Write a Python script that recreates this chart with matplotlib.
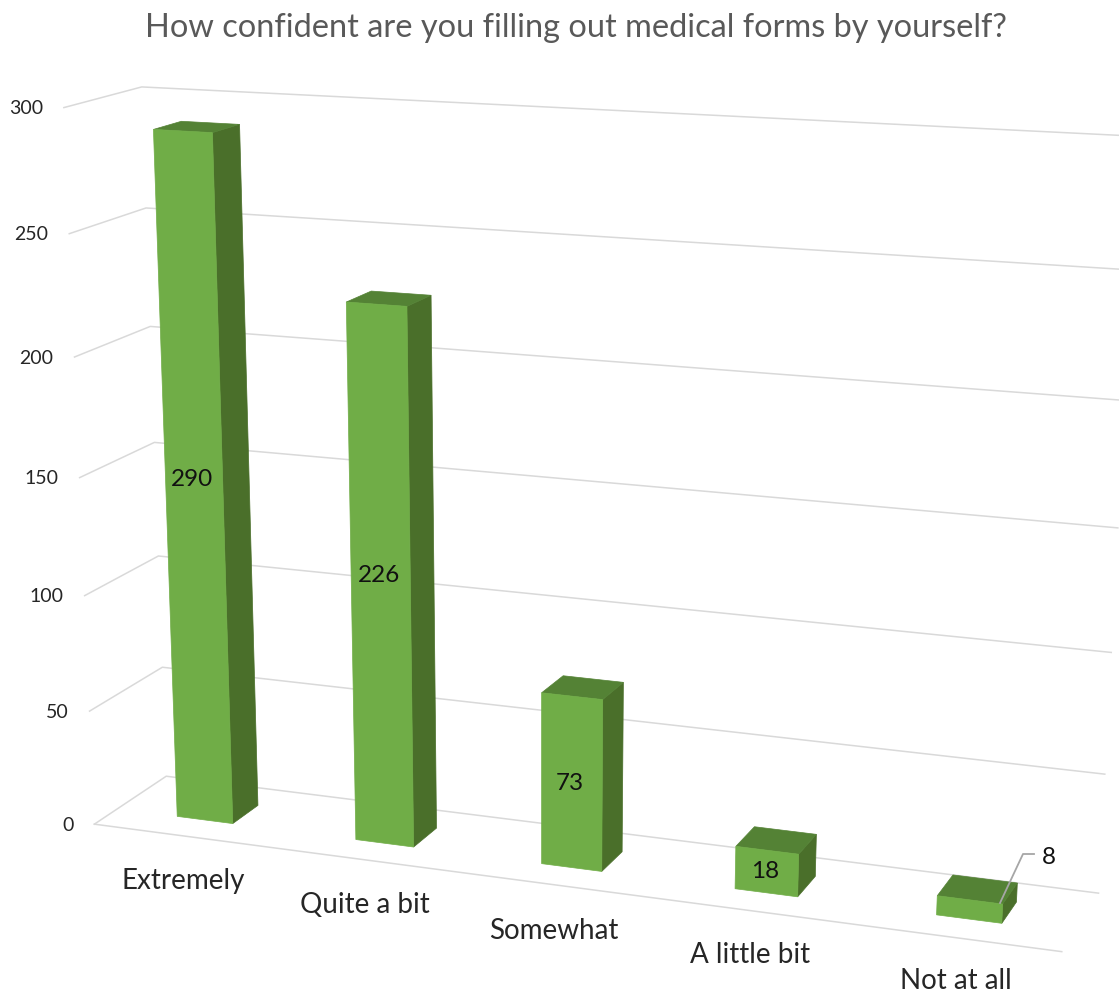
import numpy as np
from matplotlib import pyplot as plt
from matplotlib.patches import Polygon

plt.rcParams['font.family'] = ['Lato', 'DejaVu Sans']

title = "How confident are you filling out medical forms by yourself?"
categories = ["Extremely", "Quite a bit", "Somewhat", "A little bit", "Not at all"]
values = [290, 226, 73, 18, 8]
y_ticks = [0, 50, 100, 150, 200, 250, 300]

FRONT = "#70AD47"
TOP = "#548235"
SIDE = "#4A6F2A"
GRID = "#D9D9D9"

BAR_W = 0.315
Z0, Z1 = 0.315, 0.685
xl, xr = 0.5 - BAR_W / 2, 0.5 + BAR_W / 2

# camera calibration: (category pos, value, depth) -> picture pixel
calib = [
    ((0, 0, 0), (95, 824)), ((0, 300, 0), (65, 108)),
    ((0, 0, 1), (166, 776)), ((0, 300, 1), (142, 87)),
    ((5, 0, 0), (1063, 951)), ((5, 0, 1), (1098, 893)),
    ((5, 300, 1), (1140, 138)),
    ((xl, 0, Z0), (177, 817)), ((xr, 0, Z0), (233, 823)),
    ((xl, 290, Z0), (153, 130)), ((xr, 290, Z0), (212, 133)),
    ((xr, 290, Z1), (239, 124)), ((xl, 290, Z1), (182, 121)),
    ((1 + xl, 0, Z0), (356, 840)), ((1 + xr, 0, Z0), (414, 847)),
    ((1 + xl, 226, Z0), (346, 302)), ((1 + xr, 226, Z0), (405, 304)),
    ((2 + xl, 0, Z0), (542, 865)), ((2 + xr, 0, Z0), (602, 871)),
    ((2 + xl, 73, Z0), (542, 694)), ((2 + xr, 73, Z0), (601, 696)),
    ((3 + xl, 0, Z0), (736, 892)), ((3 + xr, 0, Z0), (798, 896)),
    ((3 + xl, 18, Z0), (736, 849)), ((3 + xr, 18, Z0), (798, 853)),
    ((4 + xl, 0, Z0), (937, 915)), ((4 + xr, 0, Z0), (1002, 923)),
    ((4 + xl, 8, Z0), (937, 896)), ((4 + xr, 8, Z0), (1000, 904)),
    ((4 + xl, 8, Z1), (954, 874)), ((4 + xr, 8, Z1), (1017, 882)),
]


def fit_camera(points):
    rows = []
    for (x, y, z), (u, v) in points:
        y = y / 100
        rows.append([x, y, z, 1, 0, 0, 0, 0, -u * x, -u * y, -u * z, -u])
        rows.append([0, 0, 0, 0, x, y, z, 1, -v * x, -v * y, -v * z, -v])
    _, _, vt = np.linalg.svd(np.array(rows, dtype=float))
    return vt[-1].reshape(3, 4)


cam = fit_camera(calib)


def project(x, y, z):
    p = cam @ np.array([x, y / 100, z, 1.0])
    return p[0] / p[2], p[1] / p[2]


fig = plt.figure(figsize=(11.19, 9.94), dpi=100)
ax = fig.add_axes([0, 0, 1, 1])
ax.set_xlim(0, 1119)
ax.set_ylim(994, 0)
ax.axis("off")

ax.text(576, 28, title, ha="center", va="center", fontsize=23.4, color="#595959")

# gridlines on side wall and back wall
for t in y_ticks:
    pts = [project(0, t, 0), project(0, t, 1), project(5, t, 1)]
    ax.plot(*zip(*pts), color=GRID, lw=1.1, zorder=1)
    fx, fy = pts[0]
    ax.text(fx - 21, fy + 1, str(t), ha="right", va="center", fontsize=14, color="#262626")
ax.plot(*zip(project(0, 0, 0), project(5, 0, 0)), color=GRID, lw=1.1, zorder=1)

# bars
for i, v in enumerate(values):
    a, b = i + xl, i + xr
    side = [project(b, 0, Z0), project(b, 0, Z1), project(b, v, Z1), project(b, v, Z0)]
    top = [project(a, v, Z0), project(b, v, Z0), project(b, v, Z1), project(a, v, Z1)]
    front = [project(a, 0, Z0), project(b, 0, Z0), project(b, v, Z0), project(a, v, Z0)]
    ax.add_patch(Polygon(side, closed=True, fc=SIDE, ec=SIDE, lw=0.5, zorder=3))
    ax.add_patch(Polygon(top, closed=True, fc=TOP, ec=TOP, lw=0.5, zorder=3))
    ax.add_patch(Polygon(front, closed=True, fc=FRONT, ec=FRONT, lw=0.5, zorder=4))

# data labels
label_pos = [(192, 479), (379, 576), (570, 783), (765, 872), (1049, 857)]
for v, (lx, ly) in zip(values, label_pos):
    ax.text(lx, ly, str(v), ha="center", va="center", fontsize=17.5, color="#111111", zorder=6)

# leader line for the smallest bar
ax.plot([1000, 1023, 1034], [903, 854, 854], color="#A6A6A6", lw=1.3, zorder=5)

# category labels
cat_pos = [(183, 881), (365, 905), (554, 931), (750, 955), (956, 981)]
for name, (lx, ly) in zip(categories, cat_pos):
    ax.text(lx, ly, name, ha="center", va="center", fontsize=20, color="#262626")

fig.savefig("out.png", dpi=100)
